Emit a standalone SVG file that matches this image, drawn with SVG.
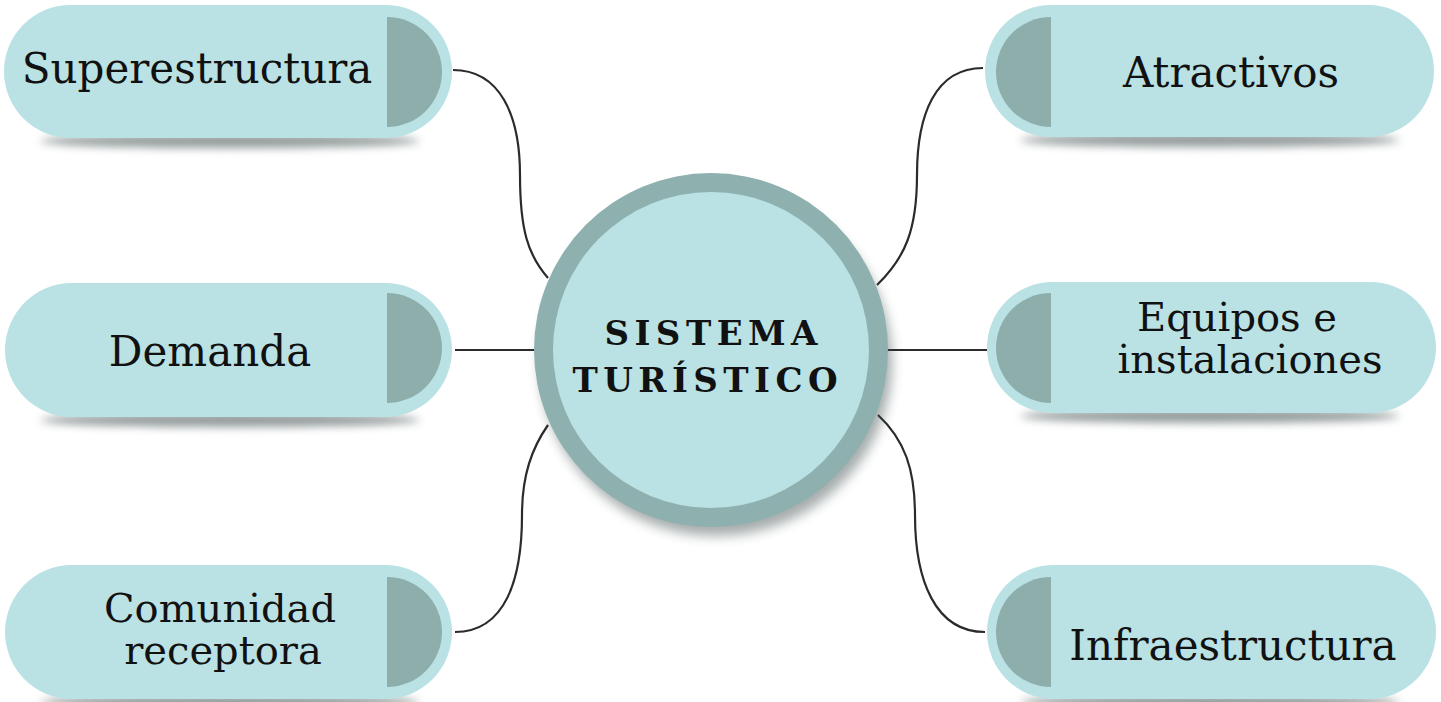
<svg xmlns="http://www.w3.org/2000/svg" width="1441" height="702" viewBox="0 0 1441 702">
<defs>
<filter id="blur" x="-20%" y="-100%" width="140%" height="300%"><feGaussianBlur stdDeviation="4"/></filter>
<filter id="cshadow" x="-20%" y="-20%" width="140%" height="140%"><feGaussianBlur stdDeviation="6"/></filter>
</defs>
<style>
.pill{fill:#bae2e4;}
.disc{fill:#8eaeac;}
.shadow{fill:#3a4a4a;opacity:0.55;filter:url(#blur);}
.lbl{font-family:"DejaVu Serif","Liberation Serif",serif;font-size:42px;fill:#111;text-anchor:middle;}
.lbl2{font-family:"DejaVu Serif","Liberation Serif",serif;font-size:40px;fill:#111;text-anchor:middle;}
.ttl{font-family:"DejaVu Serif","Liberation Serif",serif;font-size:34px;font-weight:bold;fill:#111;text-anchor:middle;}
.conn{fill:none;stroke:#2b2b2b;stroke-width:2.2;}
</style>
<rect width="1441" height="702" fill="#ffffff"/>
<g id="connectors">
<path class="conn" d="M453,70 C500,70 520,115 520,175 C520,230 528,255 548,278"/>
<path class="conn" d="M455,350 L535,350"/>
<path class="conn" d="M548,425 C532,448 522,475 522,515 C522,580 505,632 455,632"/>
<path class="conn" d="M983,68 C935,68 917,115 917,175 C917,230 905,258 877,285"/>
<path class="conn" d="M886,350 L987,350"/>
<path class="conn" d="M878,415 C905,440 915,470 915,515 C915,580 935,632 985,632"/>
</g>
<g id="center">
<ellipse cx="716" cy="362" rx="176" ry="174" fill="#3a4a4a" opacity="0.45" filter="url(#cshadow)"/>
<circle cx="711" cy="350" r="177" fill="#8eb0af"/>
<circle cx="711" cy="350" r="158" fill="#bae2e4"/>
<text class="ttl" x="711" y="345" textLength="213" lengthAdjust="spacing">SISTEMA</text>
<text class="ttl" x="705" y="392" textLength="265" lengthAdjust="spacing">TURÍSTICO</text>
</g>
<g id="superestructura">
<ellipse class="shadow" cx="230" cy="141" rx="190" ry="7"/>
<rect class="pill" x="4" y="5" width="448" height="133" rx="66.5"/>
<path class="disc" d="M387,17 A55,55 0 0 1 387,127 Z"/>
<text class="lbl" x="197" y="83">Superestructura</text>
</g>
<g id="demanda">
<ellipse class="shadow" cx="230" cy="420" rx="190" ry="7"/>
<rect class="pill" x="5" y="283" width="447" height="134" rx="67"/>
<path class="disc" d="M387,293 A55,55 0 0 1 387,403 Z"/>
<text class="lbl" x="210" y="366">Demanda</text>
</g>
<g id="comunidad">
<ellipse class="shadow" cx="230" cy="702" rx="190" ry="7"/>
<rect class="pill" x="5" y="565" width="447" height="134" rx="67"/>
<path class="disc" d="M387,577 A55,55 0 0 1 387,687 Z"/>
<text class="lbl2" x="220" y="622">Comunidad</text>
<text class="lbl2" x="223" y="664">receptora</text>
</g>
<g id="atractivos">
<ellipse class="shadow" cx="1210" cy="140" rx="190" ry="7"/>
<rect class="pill" x="985" y="5" width="449" height="132" rx="66"/>
<path class="disc" d="M1051,17 A55,55 0 0 0 1051,127 Z"/>
<text class="lbl" x="1231" y="87">Atractivos</text>
</g>
<g id="equipos">
<ellipse class="shadow" cx="1210" cy="416" rx="190" ry="7"/>
<rect class="pill" x="987" y="282" width="449" height="131" rx="65.5"/>
<path class="disc" d="M1051,293 A55,55 0 0 0 1051,403 Z"/>
<text class="lbl2" x="1237" y="331">Equipos e</text>
<text class="lbl2" x="1250" y="373">instalaciones</text>
</g>
<g id="infraestructura">
<ellipse class="shadow" cx="1210" cy="702" rx="190" ry="7"/>
<rect class="pill" x="987" y="565" width="449" height="134" rx="67"/>
<path class="disc" d="M1051,577 A55,55 0 0 0 1051,687 Z"/>
<text class="lbl" x="1233" y="660">Infraestructura</text>
</g>
</svg>
